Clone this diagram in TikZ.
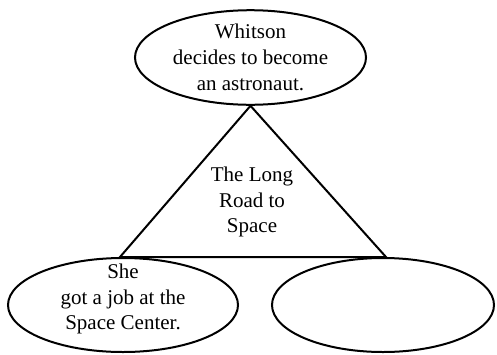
\documentclass[tikz,border=0pt]{standalone}
\usepackage{fontspec}
\setmainfont{Liberation Serif}
\usetikzlibrary{shapes.geometric}
\begin{document}
\begin{tikzpicture}[x=1pt,y=-1pt,
  oval/.style={draw,ellipse,line width=2pt,inner sep=0pt,align=center,font=\fontsize{21}{26}\selectfont},
  label/.style={align=center,font=\fontsize{21}{25.5}\selectfont}]
\useasboundingbox (0,0) rectangle (497,354);
\node[oval,minimum width=231,minimum height=94] (top) at (250.5,57.5) {Whitson\\decides to become\\an astronaut.};
\node[oval,minimum width=230,minimum height=94] (bl) at (123,305) {};
\node[label] at (123,299) {She\\got a job at the\\Space Center.};
\node[oval,minimum width=222,minimum height=94] (br) at (383,305) {};
\coordinate (tl) at (120,257);
\coordinate (tr) at (386,257);
\draw[line width=2pt,line join=miter] (top.south) -- (tl) -- (tr) -- cycle;
\node[label] (title) at (252,202) {The Long\\Road to\\Space};
\end{tikzpicture}
\end{document}
